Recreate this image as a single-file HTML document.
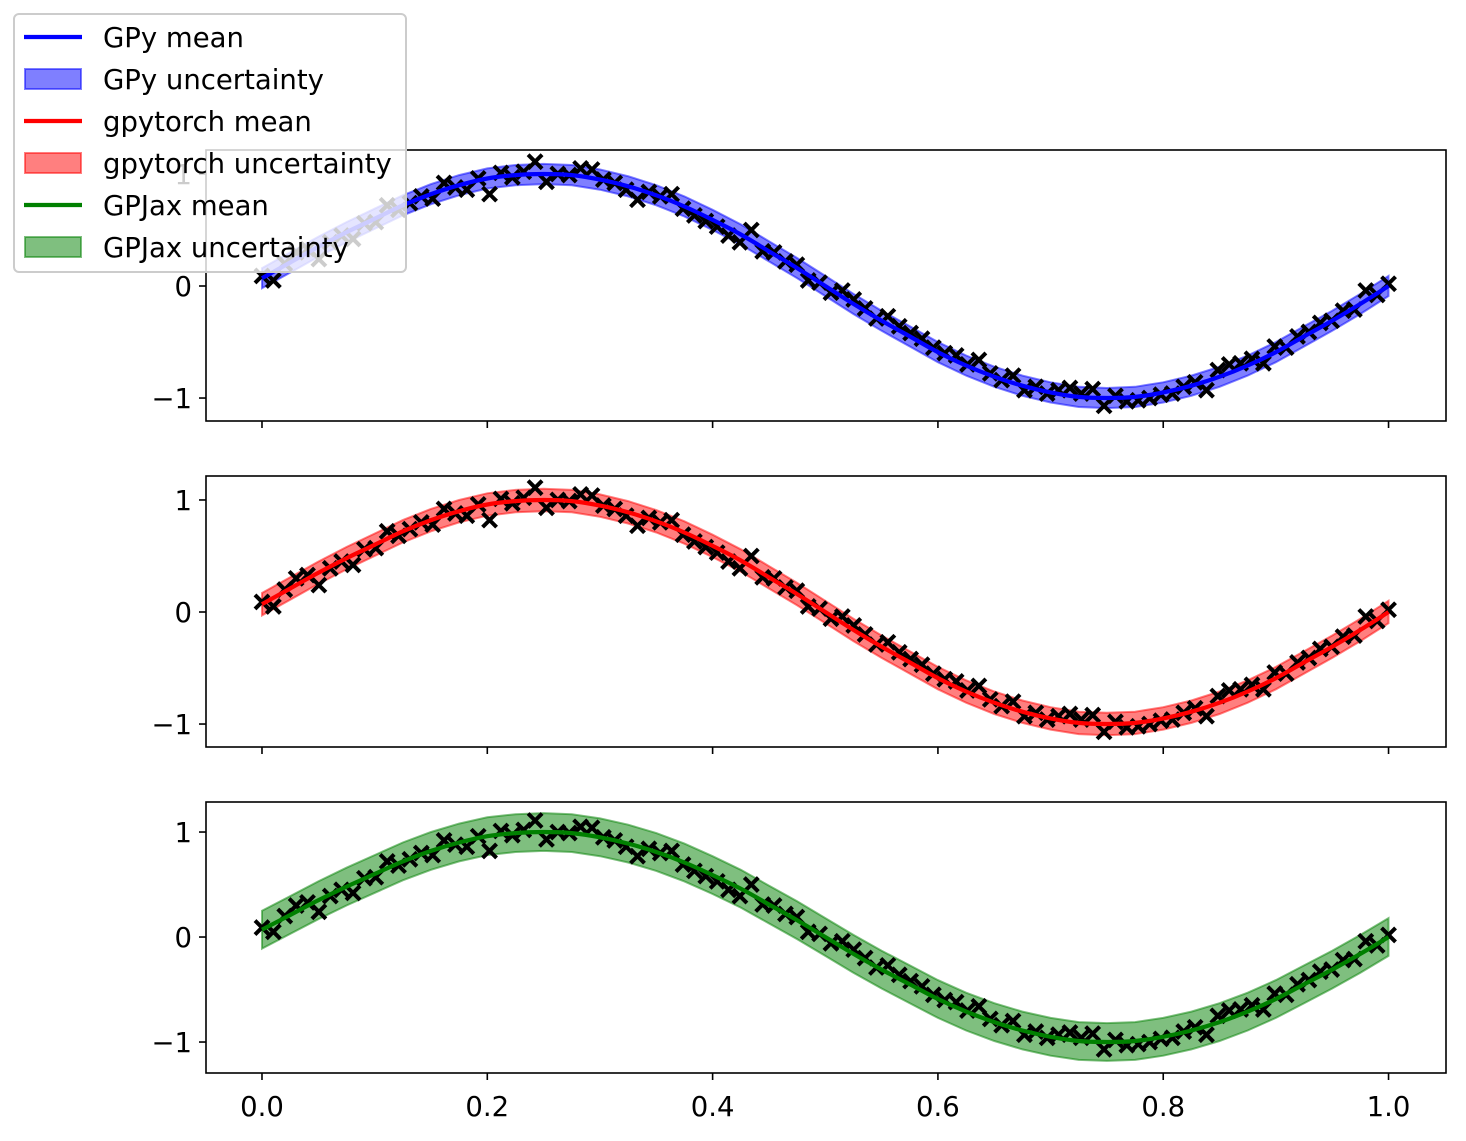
<!DOCTYPE html>
<html><head><meta charset="utf-8">
<style>
html,body{margin:0;padding:0;background:#fff;}
svg{display:block;font-family:"DejaVu Sans","Liberation Sans",sans-serif;}
</style></head>
<body>
<svg id="fig" width="1466" height="1141" viewBox="0 0 1466 1141" xmlns="http://www.w3.org/2000/svg"></svg>
<script>
// ---- data ----
const obsY = [0.09,0.05,0.20,0.30,0.33,0.24,0.39,0.45,0.42,0.56,
0.57,0.72,0.68,0.74,0.80,0.78,0.92,0.88,0.86,0.96,
0.82,1.01,0.97,1.02,1.11,0.93,1.00,0.99,1.05,1.04,
0.95,0.92,0.86,0.77,0.84,0.80,0.82,0.69,0.63,0.58,
0.53,0.45,0.39,0.50,0.31,0.30,0.22,0.19,0.05,0.03,
-0.06,-0.04,-0.12,-0.20,-0.29,-0.27,-0.36,-0.42,-0.47,-0.55,
-0.60,-0.62,-0.70,-0.66,-0.78,-0.84,-0.80,-0.93,-0.90,-0.96,
-0.93,-0.91,-0.96,-0.92,-1.07,-0.98,-1.03,-1.02,-1.00,-0.97,
-0.96,-0.90,-0.86,-0.93,-0.75,-0.70,-0.69,-0.65,-0.69,-0.54,
-0.55,-0.45,-0.41,-0.33,-0.31,-0.22,-0.21,-0.04,-0.08,0.02];
const meanY = [0.07,0.21,0.35,0.48,0.60,0.72,0.82,0.90,0.96,0.99,1.00,0.99,0.95,0.89,0.81,0.71,0.59,0.46,0.31,0.16,0.0,
-0.16,-0.31,-0.45,-0.59,-0.71,-0.81,-0.89,-0.95,-0.99,-1.0,-0.99,-0.95,-0.89,-0.81,-0.71,-0.59,-0.45,-0.31,-0.16,0.0];
const bandHalf = [0.09, 0.10, 0.18];
const xTicks = [0.0,0.2,0.4,0.6,0.8,1.0];
const xTickLabels = ["0.0","0.2","0.4","0.6","0.8","1.0"];
const yTicks = [-1,0,1];
const yTickLabels = ["\u22121","0","1"];
const panelNames = ["gpy","gpytorch","gpjax"];
const colors = ["#0000ff","#ff0000","#008000"];
const panels = [
 {top:150,bottom:421,ymin:-1.205,ymax:1.214},
 {top:476,bottom:747,ymin:-1.205,ymax:1.214},
 {top:802,bottom:1073,ymin:-1.295,ymax:1.286}
];
const L=206,R=1446,xmin=-0.0497,xmax=1.051;
const FS=27.5;
const NS="http://www.w3.org/2000/svg";
const svg=document.getElementById('fig');
function el(tag,attrs,parent){const e=document.createElementNS(NS,tag);for(const k in attrs)e.setAttribute(k,attrs[k]);(parent||svg).appendChild(e);return e;}
const sx=v=>L+(v-xmin)/(xmax-xmin)*(R-L);

panels.forEach((p,pi)=>{
  const sy=v=>p.bottom-(v-p.ymin)/(p.ymax-p.ymin)*(p.bottom-p.top);
  const g=el('g',{});
  
  
  const n=meanY.length;
  const mx=i=>i/(n-1);
  let d='';
  for(let i=0;i<n;i++)d+=(i?'L':'M')+sx(mx(i)).toFixed(1)+','+sy(meanY[i]+bandHalf[pi]).toFixed(1);
  for(let i=n-1;i>=0;i--)d+='L'+sx(mx(i)).toFixed(1)+','+sy(meanY[i]-bandHalf[pi]).toFixed(1);
  d+='Z';
  const band=el('path',{d:d,fill:colors[pi],'fill-opacity':0.5,stroke:colors[pi],'stroke-opacity':0.5,'stroke-width':2},g);
  
  
  const N=obsY.length;
  obsY.forEach((v,i)=>{
    const cx=sx(i/(N-1)),cy=sy(v),s=7;
    const m=el('path',{d:`M${cx-s},${cy-s}L${cx+s},${cy+s}M${cx-s},${cy+s}L${cx+s},${cy-s}`,stroke:'#000','stroke-width':4},g);
    
    
  });
  const pts=meanY.map((v,i)=>[sx(mx(i)),sy(v)]);
  let md='M'+pts[0][0]+','+pts[0][1];
  for(let i=0;i<pts.length-1;i++){
    const p0=pts[Math.max(0,i-1)],p1=pts[i],p2=pts[i+1],p3=pts[Math.min(pts.length-1,i+2)];
    md+='C'+(p1[0]+(p2[0]-p0[0])/6).toFixed(1)+','+(p1[1]+(p2[1]-p0[1])/6).toFixed(1)+' '+(p2[0]-(p3[0]-p1[0])/6).toFixed(1)+','+(p2[1]-(p3[1]-p1[1])/6).toFixed(1)+' '+p2[0].toFixed(1)+','+p2[1].toFixed(1);
  }
  const ml=el('path',{d:md,fill:'none',stroke:colors[pi],'stroke-width':4.2},g);
  
  
  const fr=el('rect',{x:L,y:p.top,width:R-L,height:p.bottom-p.top,fill:'none',stroke:'#000','stroke-width':1.6},g);
  
  
  xTicks.forEach((t,k)=>{
    const tk=el('line',{x1:sx(t),x2:sx(t),y1:p.bottom,y2:p.bottom+7,stroke:'#000','stroke-width':1.6},g);
    
    
    if(pi===2){
      const tl=el('text',{x:sx(t),y:p.bottom+43,'text-anchor':'middle','font-size':FS,fill:'#000'},g);
      tl.textContent=xTickLabels[k];
      
      
    }
  });
  yTicks.forEach((t,k)=>{
    const tk=el('line',{x1:L-7,x2:L,y1:sy(t),y2:sy(t),stroke:'#000','stroke-width':1.6},g);
    
    
    const tl=el('text',{x:L-14,y:sy(t)+10,'text-anchor':'end','font-size':FS,fill:'#000'},g);
    tl.textContent=yTickLabels[k];
    
    
  });
});

const lg=el('g',{});


el('rect',{x:14,y:14,width:392,height:258,rx:5,fill:'#fff','fill-opacity':0.8,stroke:'#cccccc','stroke-width':2},lg);
const legendLabels=["GPy mean","GPy uncertainty","gpytorch mean","gpytorch uncertainty","GPJax mean","GPJax uncertainty"];
legendLabels.forEach((t,i)=>{
  const y=37+i*42,c=colors[Math.floor(i/2)];
  const e=el('g',{},lg);
  
  
  if(i%2===0) el('line',{x1:24,x2:82,y1:y,y2:y,stroke:c,'stroke-width':4.2},e);
  else el('rect',{x:25,y:y-10,width:56,height:20,fill:c,'fill-opacity':0.5,stroke:c,'stroke-opacity':0.5,'stroke-width':2},e);
  const tx=el('text',{x:103,y:y+10,'font-size':FS,fill:'#000'},e);
  tx.textContent=t;
});
</script>
</body></html>
